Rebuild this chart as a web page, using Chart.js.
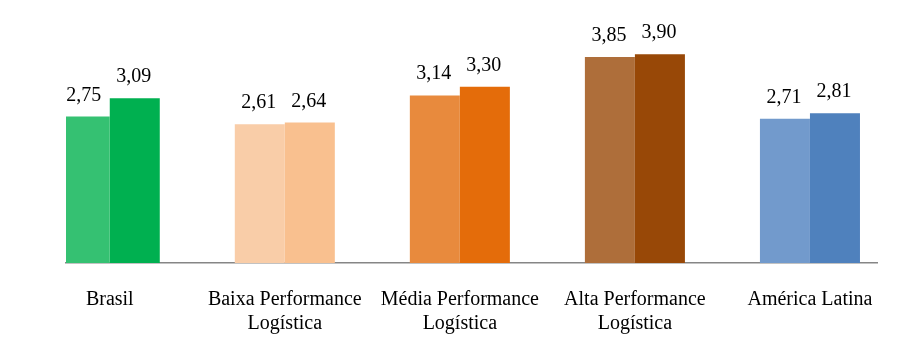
<!DOCTYPE html>
<html>
<head>
<meta charset="utf-8">
<script src="https://cdn.jsdelivr.net/npm/chart.js@4/dist/chart.umd.min.js"></script>
<style>
  html, body { margin: 0; padding: 0; background: #fff; }
  #wrap { width: 920px; height: 353px; }
</style>
</head>
<body>
<div id="wrap"><canvas id="lpiChart"></canvas></div>
<script>
(function() {
    'use strict';

    // Categories (two-line labels where the original wraps)
    var categories = [
        'Brasil',
        ['Baixa Performance', 'Logística'],
        ['Média Performance', 'Logística'],
        ['Alta Performance', 'Logística'],
        'América Latina'
    ];

    // Two series per category
    var seriesA = [2.75, 2.61, 3.14, 3.85, 2.71];
    var seriesB = [3.09, 2.64, 3.30, 3.90, 2.81];

    var colorsA = ['#35C172', '#F9CDA8', '#E88A3D', '#AE6E3A', '#729ACC'];
    var colorsB = ['#00B050', '#F9C08F', '#E46C0A', '#984807', '#4F81BD'];

    var serif = '"Liberation Serif", "Times New Roman", serif';

    function toPoints(values) {
        return values.map(function(v, i) { return { x: i, y: v }; });
    }

    // Value labels above each bar, decimal comma
    var valueLabels = {
        id: 'valueLabels',
        afterDatasetsDraw: function(chart) {
            var ctx = chart.ctx;
            ctx.save();
            ctx.font = '20px ' + serif;
            ctx.fillStyle = '#000';
            ctx.textAlign = 'center';
            ctx.textBaseline = 'alphabetic';
            chart.data.datasets.forEach(function(ds, di) {
                chart.getDatasetMeta(di).data.forEach(function(bar, i) {
                    var txt = ds.data[i].y.toFixed(2).replace('.', ',');
                    ctx.fillText(txt, bar.x - 1, bar.y - 16);
                });
            });
            ctx.restore();
        }
    };

    new Chart(document.getElementById('lpiChart'), {
        type: 'bar',
        data: {
            datasets: [{
                data: toPoints(seriesA),
                backgroundColor: colorsA,
                borderWidth: 0
            }, {
                data: toPoints(seriesB),
                backgroundColor: colorsB,
                borderWidth: 0
            }]
        },
        options: {
            responsive: true,
            maintainAspectRatio: false,
            animation: false,
            layout: { padding: { left: 66, right: 43, top: 0, bottom: 0 } },
            categoryPercentage: 100 / 175,
            barPercentage: 1.0,
            plugins: {
                legend: { display: false },
                tooltip: { enabled: false }
            },
            scales: {
                x: {
                    type: 'linear',
                    offset: false,
                    min: -0.25,
                    max: 4.383,
                    grid: { display: false },
                    border: { display: true, color: '#868686', width: 1.5 },
                    afterBuildTicks: function(scale) {
                        scale.ticks = categories.map(function(c, i) { return { value: i }; });
                    },
                    afterFit: function(scale) { scale.height = 90; },
                    ticks: {
                        autoSkip: false,
                        maxRotation: 0,
                        minRotation: 0,
                        padding: 16,
                        color: '#000',
                        font: { family: serif, size: 20, lineHeight: 1.23 },
                        callback: function(value) { return categories[value]; }
                    }
                },
                y: {
                    display: false,
                    min: 0.05,
                    max: 4.9
                }
            }
        },
        plugins: [valueLabels]
    });
})();
</script>
</body>
</html>
